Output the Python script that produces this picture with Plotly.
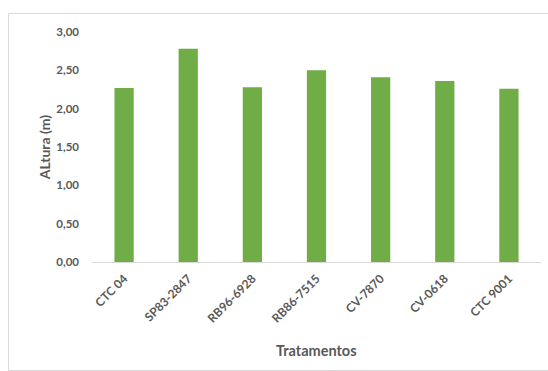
import plotly.graph_objects as go

categories = ["CTC 04", "SP83-2847", "RB96-6928", "RB86-7515", "CV-7870", "CV-0618", "CTC 9001"]
altura = [2.27, 2.78, 2.28, 2.50, 2.41, 2.36, 2.26]
y_ticks = [0, 0.5, 1.0, 1.5, 2.0, 2.5, 3.0]
y_tick_labels = ["0,00", "0,50", "1,00", "1,50", "2,00", "2,50", "3,00"]

txt = "#595959"
font_fam = "Lato, 'Open Sans', sans-serif"

fig = go.Figure(go.Bar(x=categories, y=altura, marker_color="#70ad47",
                       marker_line_width=0, width=0.30))

L, R, T, B = 92, 7, 32, 109
W, H = 548, 371
pw, ph = W - L - R, H - T - B

def px2x(px):
    return (px - L) / pw

def py2y(py):
    return (H - B - py) / ph

fig.update_layout(
    width=W, height=H,
    margin=dict(l=L, r=R, t=T, b=B),
    paper_bgcolor="white", plot_bgcolor="white",
    showlegend=False,
    font=dict(family=font_fam, color=txt),
    xaxis=dict(tickangle=-45, tickfont=dict(size=12, color=txt, weight="bold"),
               showline=True, linecolor="#d9d9d9", linewidth=1, ticks="",
               ticklabelstandoff=4, showgrid=False),
    yaxis=dict(range=[0, 3], tickvals=y_ticks, ticktext=y_tick_labels,
               tickfont=dict(size=11.5, color=txt, weight="bold"),
               ticklabelstandoff=12,
               showgrid=False, zeroline=False, showline=False, ticks="",
               title=dict(text="ALtura (m)", font=dict(size=14, color=txt, weight="bold"),
                          standoff=2)),
    annotations=[dict(text="<b>Tratamentos</b>", x=0.5, y=py2y(350), xref="paper", yref="paper",
                      showarrow=False, xanchor="center", yanchor="middle",
                      font=dict(size=14.5, color=txt))],
    shapes=[dict(type="rect", xref="paper", yref="paper",
                 x0=px2x(8.5), x1=px2x(560), y0=py2y(370.5), y1=py2y(13.5),
                 line=dict(color="#d9d9d9", width=1), layer="below")],
)

fig.write_html("out.html")
